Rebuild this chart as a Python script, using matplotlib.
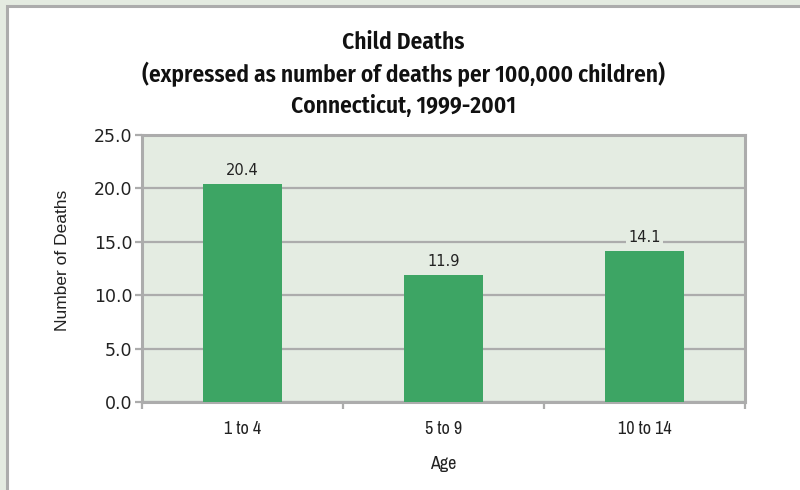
import matplotlib

matplotlib.use("Agg")
import matplotlib.pyplot as plt
from matplotlib.patches import Rectangle

# child death rates per 100,000 children, Connecticut 1999-2001
ages = ["1 to 4", "5 to 9", "10 to 14"]
deaths = [20.4, 11.9, 14.1]
yticks = [0.0, 5.0, 10.0, 15.0, 20.0, 25.0]

OUTER = "#e4ebe1"
PLOT_BG = "#e4ece2"
GRID = "#acacac"
BAR = "#3da564"
TEXT = "#222222"
NARROW = ["Archivo Narrow", "DejaVu Sans"]
NARROW_BOLD = ["Fira Sans Condensed", "DejaVu Sans"]

fig = plt.figure(figsize=(8, 4.9), dpi=100, facecolor=OUTER)
# white panel with a grey frame on its top and left edge
fig.patches.append(Rectangle((6.5 / 800, -0.1), 1.2, (490 - 6.5) / 490 + 0.1,
                             transform=fig.transFigure, facecolor="white",
                             edgecolor=GRID, linewidth=2.2, zorder=-10))

ax = fig.add_axes([142 / 800, 1 - 402 / 490, (745 - 142) / 800, (402 - 135) / 490])
ax.set_zorder(5)
ax.set_facecolor(PLOT_BG)
x = range(len(ages))
bars = ax.bar(x, deaths, width=0.39, color=BAR, zorder=3)
for b, v in zip(bars, deaths):
    ax.text(b.get_x() + b.get_width() / 2, v + 0.6, "%.1f" % v, ha="center",
            va="bottom", fontsize=10.5, color=TEXT, zorder=4,
            bbox=dict(facecolor=PLOT_BG, edgecolor="none", pad=1.5))

ax.set_xlim(-0.5, len(ages) - 0.5)
ax.set_ylim(0, 25)
ax.set_yticks(yticks)
ax.set_yticklabels(["%.1f" % t for t in yticks], fontsize=12.5, color=TEXT)
ax.yaxis.grid(True, color=GRID, linewidth=1.6, zorder=1)
ax.set_axisbelow(True)
ax.tick_params(axis="y", length=5, width=1.6, color=GRID, pad=2)

ax.set_xticks(list(x))
ax.set_xticklabels(ages, fontsize=13, family=NARROW, color=TEXT)
ax.set_xticks([i - 0.5 for i in range(len(ages) + 1)], minor=True)
ax.tick_params(axis="x", which="major", length=0, pad=14)
ax.tick_params(axis="x", which="minor", length=5, width=1.6, color=GRID)

for s in ax.spines.values():
    s.set_color(GRID)
    s.set_linewidth(2.2)

ax.set_xlabel("Age", fontsize=13, family=NARROW, color=TEXT, labelpad=13)
ax.set_ylabel("Number of Deaths", fontsize=12.5, family=["Liberation Sans", "DejaVu Sans"],
              color=TEXT)
ax.yaxis.set_label_coords(-0.12, 0.532)

fig.text(0.504, 1 - 31 / 490, "Child Deaths\n(expressed as number of deaths per 100,000 children)\nConnecticut, 1999-2001",
         ha="center", va="top", fontsize=16.8, fontweight=600, family=NARROW_BOLD,
         linespacing=1.4, color="#111111")

fig.savefig("out.png", dpi=100, facecolor=OUTER)
